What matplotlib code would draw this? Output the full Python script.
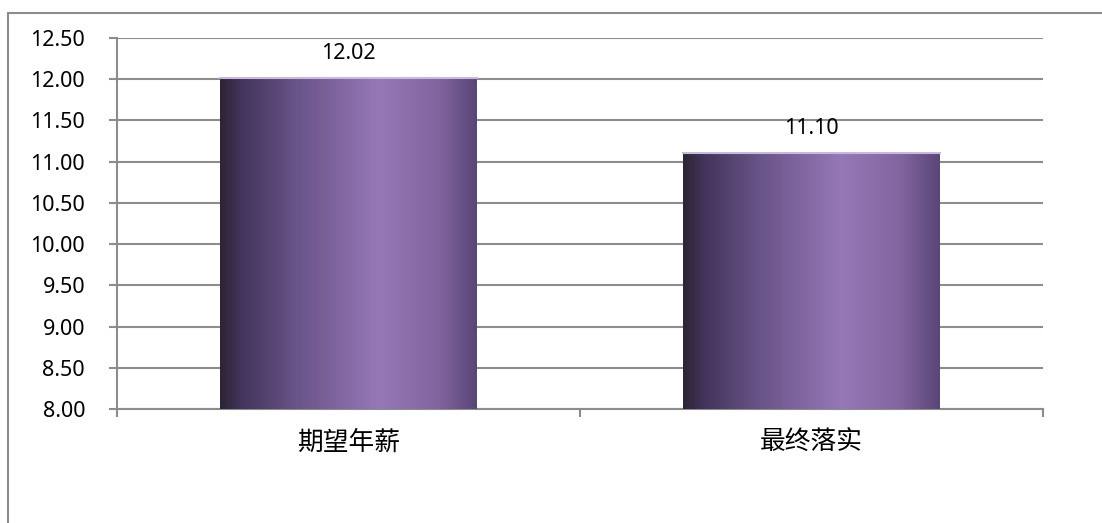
import matplotlib
matplotlib.use("Agg")
import matplotlib.pyplot as plt
import numpy as np
from matplotlib.colors import LinearSegmentedColormap
from matplotlib.patches import Rectangle

categories = ["期望年薪", "最终落实"]
values = [12.02, 11.10]
yticks = [8.00, 8.50, 9.00, 9.50, 10.00, 10.50, 11.00, 11.50, 12.00, 12.50]

plt.rcParams['font.family'] = ['Noto Sans', 'Noto Sans CJK SC', 'DejaVu Sans']

W, H = 1102, 523
fig = plt.figure(figsize=(W / 100, H / 100), dpi=100)
ax = fig.add_axes([117 / W, 1 - 409 / H, (1043 - 117) / W, (409 - 38) / H])

# outer border (left/top visible)
fig.patches.append(Rectangle((8 / W, -0.1), 1.2, 1 - 13 / H + 0.1, transform=fig.transFigure,
                             fill=False, edgecolor='#8c8c8c', linewidth=1.5, zorder=0))

x = np.arange(len(categories))
bars = ax.bar(x, values, width=0.555, color='none', edgecolor='none', zorder=3)

cmap = LinearSegmentedColormap.from_list('bargrad', [
    (0.0, '#2c2434'), (0.08, '#42345a'), (0.3, '#6a5488'),
    (0.62, '#9678b8'), (0.85, '#82649e'), (1.0, '#5a4678')])
grad = np.linspace(0, 1, 256).reshape(1, -1)
for b in bars:
    x0, w, h = b.get_x(), b.get_width(), b.get_height()
    ax.imshow(grad, cmap=cmap, aspect='auto', extent=(x0, x0 + w, 8.0, h),
              zorder=3, interpolation='bicubic')
    ax.plot([x0, x0 + w], [h, h], color='#c8b8dc', linewidth=1.5, zorder=4)
    ax.text(x0 + w / 2, h + 0.17, f"{h:.2f}", ha='center', va='bottom', fontsize=15.5, color='black')

ax.set_xlim(-0.5, len(categories) - 0.5)
ax.set_ylim(8.0, 12.5)
ax.set_yticks(yticks)
ax.set_yticklabels([f"{v:.2f}" for v in yticks], fontsize=15.5)
ax.set_xticks(x)
ax.set_xticklabels(categories, fontsize=18.5, family=['Noto Sans CJK SC', 'DejaVu Sans'])
ax.tick_params(axis='x', length=0, pad=15)
ax.tick_params(axis='y', length=6, width=1.5, color='#8c8c8c', pad=17)
# minor ticks at category boundaries
ax.set_xticks([-0.5, 0.5, 1.5], minor=True)
ax.tick_params(axis='x', which='minor', length=6, width=1.5, color='#8c8c8c')

ax.grid(axis='y', color='#8c8c8c', linewidth=1.5, zorder=0)
ax.set_axisbelow(True)
for s in ['top', 'right']:
    ax.spines[s].set_visible(False)
for s in ['left', 'bottom']:
    ax.spines[s].set_color('#8c8c8c')
    ax.spines[s].set_linewidth(1.5)

fig.savefig('out.png', dpi=100)
